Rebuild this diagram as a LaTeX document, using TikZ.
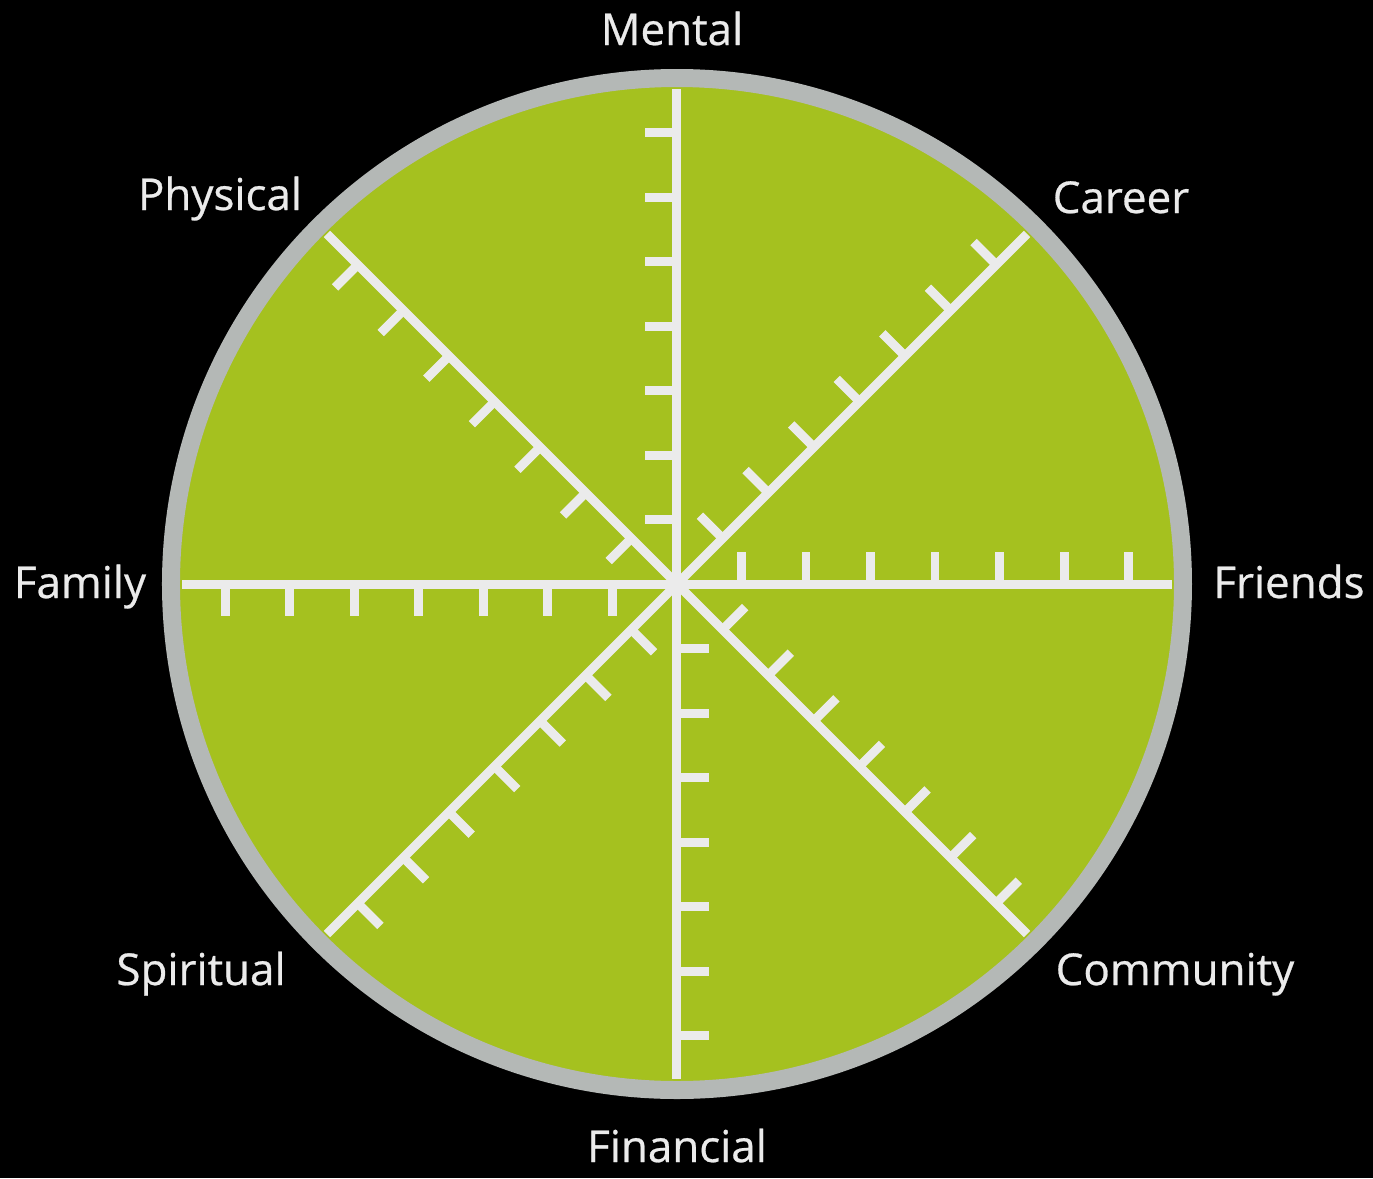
\documentclass[tikz,border=0pt]{standalone}
\usepackage{fontspec}
\setmainfont{Open Sans}
\newfontfamily\labelfont[BoldFont={Open Sans},BoldFeatures={FakeBold=0.6}]{Open Sans}
\usepackage{xcolor}
\definecolor{wheelgreen}{HTML}{A5C11F}
\definecolor{rimgray}{HTML}{B4B8B6}
\definecolor{spokewhite}{HTML}{EBEBEB}
\tikzset{
  spoke/.style={spokewhite,line width=0.18cm},
  area/.style={text=spokewhite,anchor=base,font=\labelfont\bfseries\fontsize{25}{29}\selectfont}
}

\begin{document}
\begin{tikzpicture}[x=0.02cm,y=0.02cm]
        \fill[black] (-677,-594) rectangle (696,584);
        \useasboundingbox (-677,-594) rectangle (696,584);
        % wheel and rim
        \fill[wheelgreen] (0,0) circle (506);
        \draw[rimgray,line width=0.36cm] (0,0) circle (506);
        % spokes with their scale marks
        \foreach \a in {0,45,...,315}{
            \draw[spoke] (0,0) -- (\a:495);
            \foreach \k in {1,...,7}{
                \draw[spoke] (\a:{64.5*\k}) -- ++(\a+90:32);
            }
        }
        \node[area] (mental) at (-5,539) {Mental};
        \node[area] (career) at (444,371) {Career};
        \node[area] (friends) at (612,-14) {Friends};
        \node[area] (community) at (498,-401) {Community};
        \node[area] (financial) at (0,-578) {Financial};
        \node[area] (spiritual) at (-476,-401) {Spiritual};
        \node[area] (family) at (-597,-14) {Family};
        \node[area] (physical) at (-457,374) {Physical};
    \end{tikzpicture}
\end{document}
